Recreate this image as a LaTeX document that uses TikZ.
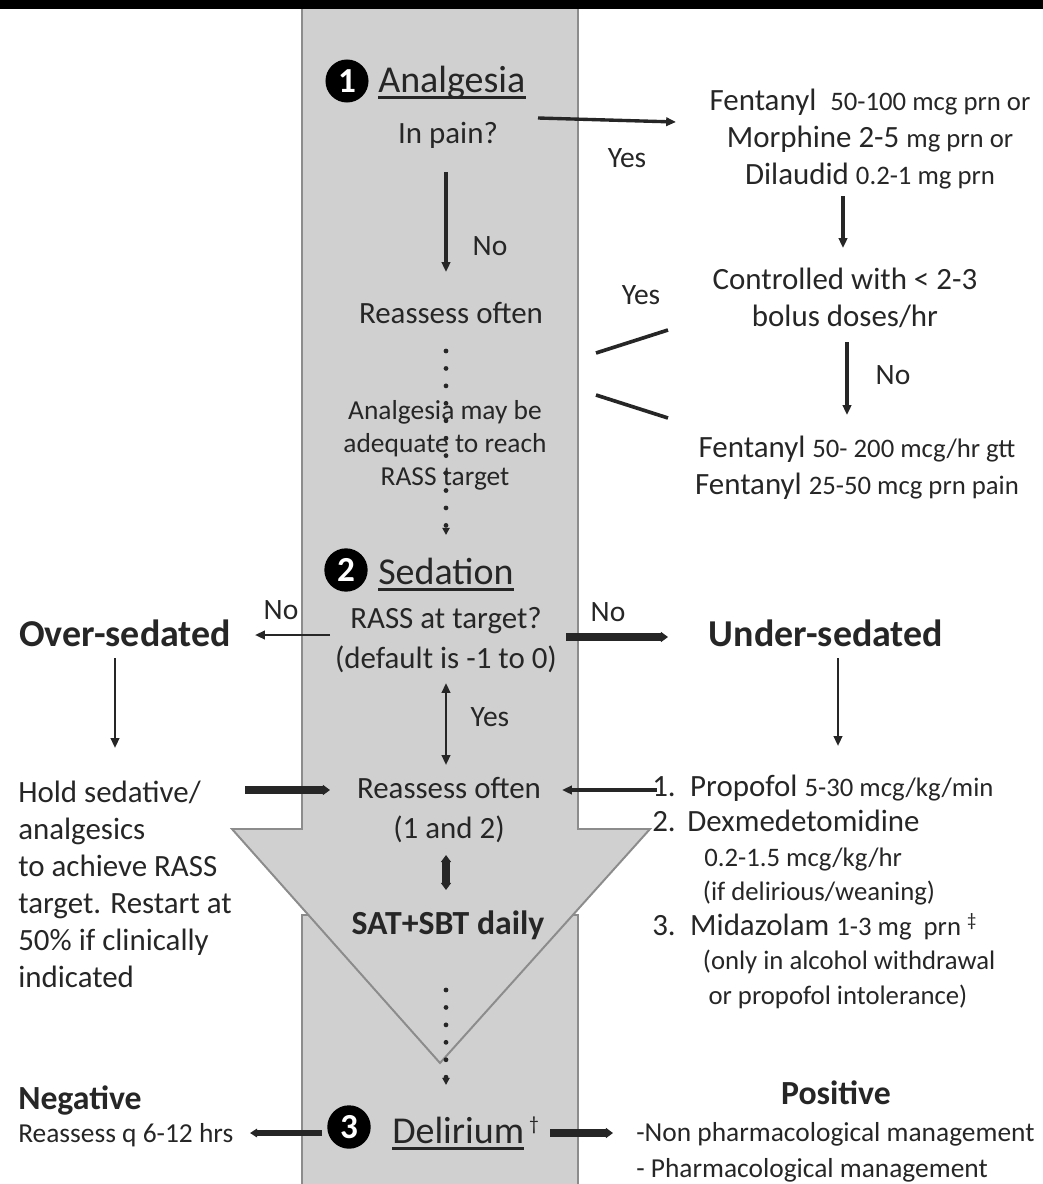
\documentclass[tikz,border=0pt]{standalone}
\usepackage{fontspec}
\setmainfont{Carlito}
\usetikzlibrary{arrows.meta}
\definecolor{band}{HTML}{D0D0D0}
\definecolor{bandedge}{HTML}{8C8C8C}
\definecolor{ink}{HTML}{262626}
\newcommand{\sm}{\fontsize{19}{22}\selectfont}

\begin{document}
\begin{tikzpicture}[x=0.025cm, y=-0.025cm,
    every node/.style={inner sep=0pt, text=ink},
    txt/.style={font=\fontsize{22}{26.3}\selectfont, align=center},
    wide/.style={font=\fontsize{22}{28.5}\selectfont, align=center},
    note/.style={font=\fontsize{19.5}{23.5}\selectfont, align=center},
    lbl/.style={font=\fontsize{21}{25}\selectfont},
    head/.style={font=\fontsize{27}{32}\selectfont},
    bighead/.style={font=\fontsize{27}{32}\selectfont\bfseries},
    subhead/.style={font=\fontsize{24}{29}\selectfont\bfseries},
    numdot/.style={circle, fill=black, text=white, inner sep=3.6pt,
      minimum width=29pt, minimum height=29pt,
      font=\fontsize{25}{25}\selectfont\bfseries},
    uline/.style={line width=2pt, ink},
    arr/.style={draw=ink, line width=1.6pt, -{Triangle[length=7pt,width=6pt]}},
    twoarr/.style={draw=ink, line width=1.6pt,
      {Triangle[length=7pt,width=6pt]}-{Triangle[length=7pt,width=6pt]}},
    medarr/.style={draw=ink, line width=2.4pt, -{Triangle[length=7pt,width=6pt]}},
    fatarr/.style={draw=ink, line width=5pt, -{Triangle[length=5pt,width=7pt]}},
    fattwo/.style={draw=ink, line width=5pt,
      {Triangle[length=5pt,width=7pt]}-{Triangle[length=5pt,width=7pt]}},
    bar/.style={draw=ink, line width=2.6pt},
    dotarr/.style={draw=ink, line width=3.4pt, line cap=round,
      dash pattern=on 0pt off 12.4pt, -{Triangle[length=5pt,width=5pt]}}
  ]
  \useasboundingbox (0,0) rectangle (1043,1184);

  % backdrop: top rule and the big grey arrow
  \fill[black] (0,0) rectangle (1043,9);
  \fill[band] (302,915) rectangle (578,1190);
  \draw[bandedge, line width=1.4pt] (302,1190) -- (302,915) -- (578,915) -- (578,1190);
  \filldraw[fill=band, draw=bandedge, line width=1.4pt]
    (302,9) -- (302,829) -- (232,829) -- (440,1063) -- (650,829) -- (578,829) -- (578,9);

  % 1 analgesia
  \node[numdot] (n1) at (347,81) {1};
  \node[head, anchor=base west] (analg) at (378,92) {Analgesia};
  \draw[uline] ([yshift=-4pt]analg.base west) -- ([yshift=-4pt]analg.base east);
  \node[txt] (pain) at (448,135) {In pain?};
  \node[txt] (fent) at (870,139) {Fentanyl\ \ {\sm 50-100 mcg prn or}\\
    Morphine 2-5 {\sm mg prn or}\\ Dilaudid {\sm 0.2-1 mg prn}};
  \node[txt] (ctrl) at (845,298) {Controlled with < 2-3\\ bolus doses/hr};
  \node[txt] (fent2) at (857,468) {Fentanyl {\sm 50- 200 mcg/hr gtt}\\
    Fentanyl {\sm 25-50 mcg prn pain}};
  \node[txt] (reass1) at (451,313) {Reassess often};
  \node[note] (adeq) at (445,445) {Analgesia may be\\ adequate to reach\\ RASS target};

  \draw[medarr] ([shift={(90,-17)}]pain.center) -- ([shift={(-194,-17)}]fent.center);
  \node[lbl] at (627,158) {Yes};
  \draw[medarr] ([shift={(-27,57)}]fent.center) -- ([shift={(-2,-50)}]ctrl.center);
  \draw[bar] ([shift={(-177,32)}]ctrl.center) -- ([shift={(145,40)}]reass1.center);
  \draw[bar] ([shift={(-189,-50)}]fent2.center) -- ([shift={(145,82)}]reass1.center);
  \node[lbl] at (641,295) {Yes};
  \draw[medarr] ([shift={(2,44)}]ctrl.center) -- ([shift={(-10,-53)}]fent2.center);
  \node[lbl] at (893,375) {No};
  \draw[medarr] ([shift={(-2,37)}]pain.center) -- ([shift={(-5,-41)}]reass1.center);
  \node[lbl] at (490,246) {No};

  % 2 sedation
  \node[numdot] (n2) at (346,570) {2};
  \node[head, anchor=base west] (sed) at (378,584) {Sedation};
  \draw[uline] ([yshift=-4pt]sed.base west) -- ([yshift=-4pt]sed.base east);
  \draw[dotarr] ([shift={(-5,38)}]reass1.center) -- ([shift={(100,-35)}]n2.center);
  \node[wide] (rass) at (446,640) {RASS at target?\\ (default is -1 to 0)};
  \node[bighead] (over) at (125,633) {Over-sedated};
  \node[bighead] (under) at (826,633) {Under-sedated};
  \node[txt, align=left, anchor=west] (hold) at (18,884) {Hold sedative/\\ analgesics\\
    to achieve RASS\\ target. Restart at\\ 50\% if clinically\\ indicated};
  \node[wide] (reass2) at (449,810) {Reassess often\\ (1 and 2)};
  \node[font=\fontsize{22}{24.6}\selectfont, align=left, anchor=west] (drugs) at (652,892)
    {\makebox[27pt][l]{1.}Propofol {\sm 5-30 mcg/kg/min}\\
     \makebox[25pt][l]{2.}Dexmedetomidine\\
     \hspace*{37pt}{\sm 0.2-1.5 mcg/kg/hr}\\
     \hspace*{36pt}{\sm (if delirious/weaning)}\\
     \makebox[27pt][l]{3.}Midazolam {\sm 1-3 mg\ \ prn \textsuperscript{‡}}\\
     \hspace*{36pt}{\sm (only in alcohol withdrawal}\\
     \hspace*{40pt}{\sm or propofol intolerance)}};
  \node[subhead] (sat) at (448,925) {SAT+SBT daily};

  \draw[arr] ([shift={(-116,-5)}]rass.center) -- ([shift={(130,2)}]over.center);
  \node[lbl] at (281,610) {No};
  \draw[fatarr] ([shift={(120,-3)}]rass.center) -- ([shift={(-158,4)}]under.center);
  \node[lbl] at (608,612) {No};
  \draw[arr] ([shift={(-10,25)}]over.center) -- ([shift={(97,-136)}]hold.west);
  \draw[arr] ([shift={(12,25)}]under.center) -- ([shift={(186,-146)}]drugs.west);
  \draw[twoarr] ([shift={(0,43)}]rass.center) -- ([shift={(-3,-45)}]reass2.center);
  \node[lbl] at (490,717) {Yes};
  \draw[fatarr] ([shift={(227,-94)}]hold.west) -- ([shift={(-119,-20)}]reass2.center);
  \draw[medarr] ([shift={(5,-102)}]drugs.west) -- ([shift={(113,-20)}]reass2.center);
  \draw[fattwo] ([shift={(-3,45)}]reass2.center) -- ([shift={(-2,-35)}]sat.center);

  % 3 delirium
  \node[numdot] (n3) at (349,1127) {3};
  \node[head, anchor=base west] (delir) at (392,1143) {Delirium};
  \draw[uline] ([yshift=-4pt]delir.base west) -- ([yshift=-4pt]delir.base east);
  \node[anchor=base west, font=\fontsize{14}{14}\selectfont] at (delir.base east) {\ \raisebox{9pt}{†}};
  \draw[dotarr] ([shift={(-2,65)}]sat.center) -- ([shift={(97,-42)}]n3.center);
  \node[subhead, anchor=west] (neg) at (18,1100) {Negative};
  \node[note, anchor=west] (negtxt) at (18,1135) {Reassess q 6-12 hrs};
  \node[subhead] (pos) at (836,1093) {Positive};
  \node[note, align=left, anchor=west, font=\fontsize{19.5}{25.5}\selectfont] (postxt) at (636,1152)
    {-Non pharmacological management\\ - Pharmacological management};
  \draw[line width=4pt, draw=ink, -{Triangle[length=5pt,width=6pt]}] ([shift={(-27,6)}]n3.center) -- ([shift={(232,-2)}]negtxt.west);
  \draw[fatarr] ([shift={(201,6)}]n3.center) -- ([shift={(-23,-19)}]postxt.west);
\end{tikzpicture}
\end{document}
